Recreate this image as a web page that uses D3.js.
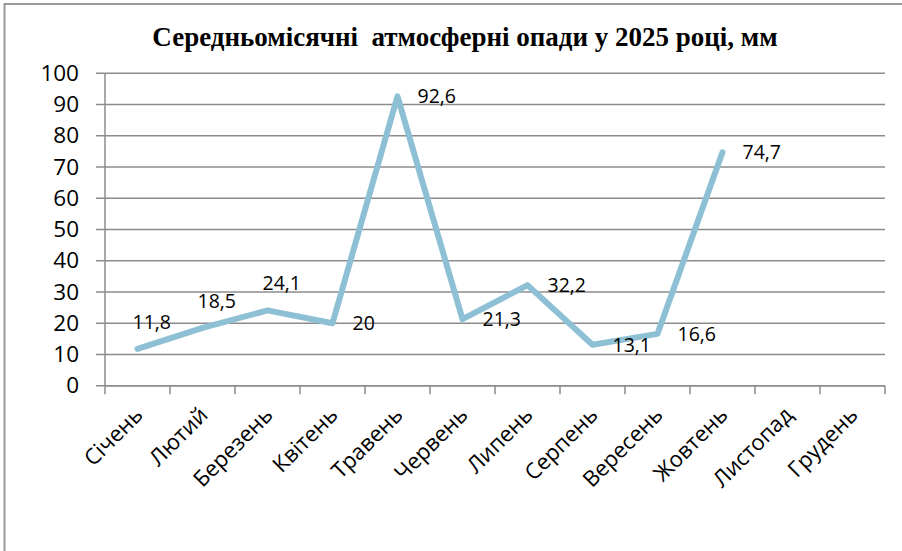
<!DOCTYPE html>
<html><head><meta charset="utf-8">
<script src="https://cdn.jsdelivr.net/npm/d3@7"></script>
<style>html,body{margin:0;padding:0;background:#fff}svg{display:block}</style>
</head><body>
<svg id="c" width="902" height="551"></svg>
<script>
const title = "Середньомісячні  атмосферні опади у 2025 році, мм";
const months = ["Січень","Лютий","Березень","Квітень","Травень","Червень","Липень","Серпень","Вересень","Жовтень","Листопад","Грудень"];
const values = [11.8, 18.5, 24.1, 20, 92.6, 21.3, 32.2, 13.1, 16.6, 74.7];
const labels = ["11,8","18,5","24,1","20","92,6","21,3","32,2","13,1","16,6","74,7"];
const labelPlacement = ["above","above","above","right","right","right","right","right","right","right"];
const yTicks = [0,10,20,30,40,50,60,70,80,90,100];

(function(){
const svg = d3.select("#c");
const pL = 105, pR = 885, pT = 73.3, pB = 385.7;

svg.append("path").attr("d","M4.5,551 L4.5,4 L902,4").attr("fill","none").attr("stroke","#9a9a9a").attr("stroke-width",2);

svg.append("text").attr("x",465).attr("y",46).attr("text-anchor","middle")
  .attr("font-family","'Liberation Serif','Times New Roman',serif").attr("font-weight","bold")
  .attr("font-size",27).attr("fill","#000").attr("xml:space","preserve").text(title);

const x = d3.scaleBand().domain(months).range([pL,pR]);
const y = d3.scaleLinear().domain([0,100]).range([pB,pT]);

svg.append("g").selectAll("line").data(yTicks).join("line")
  .attr("x1",96).attr("x2",pR).attr("y1",d=>y(d)).attr("y2",d=>y(d))
  .attr("stroke","#8c8c8c").attr("stroke-width",1.5);

const ya = svg.append("g").attr("transform",`translate(${pL},0)`)
  .call(d3.axisLeft(y).tickValues(yTicks).tickSize(0).tickPadding(26).tickFormat(d3.format("d")));
ya.select(".domain").attr("stroke","#8c8c8c").attr("stroke-width",1.5).attr("d",`M0,${pT}V${pB}`);
ya.selectAll("text").attr("font-family","'Open Sans',sans-serif").attr("font-size",22.5).attr("fill","#000");

const xa = svg.append("g").attr("transform",`translate(0,${pB})`)
  .call(d3.axisBottom(x).tickSize(0).tickFormat(""));
xa.select(".domain").attr("stroke","#8c8c8c").attr("stroke-width",1.5).attr("d",`M${pL},0H${pR}`);
xa.selectAll(".tick").remove();
const bounds = months.map(m=>x(m)).concat([x(months[months.length-1])+x.bandwidth()]);
svg.append("g").selectAll("line").data(bounds).join("line")
  .attr("x1",d=>d).attr("x2",d=>d).attr("y1",pB).attr("y2",pB+8.5)
  .attr("stroke","#8c8c8c").attr("stroke-width",1.5);

svg.append("g").selectAll("text").data(months).join("text")
  .attr("transform",d=>`translate(${x(d)+x.bandwidth()/2-5},${pB+19}) rotate(-45)`)
  .attr("text-anchor","end").attr("dy","0.75em")
  .attr("font-family","'Open Sans',sans-serif").attr("font-size",22).attr("fill","#000").text(d=>d);

const pts = values.map((v,i)=>[x(months[i])+x.bandwidth()/2, y(v)]);
svg.append("path").attr("d",d3.line()(pts)).attr("fill","none")
  .attr("stroke","#8dc0d4").attr("stroke-width",6).attr("stroke-linejoin","round").attr("stroke-linecap","round");

svg.append("g").selectAll("text").data(values).join("text")
  .attr("x",(d,i)=> labelPlacement[i]==="right" ? pts[i][0]+20 : pts[i][0]-5)
  .attr("y",(d,i)=> labelPlacement[i]==="right" ? pts[i][1]+7 : pts[i][1]-20)
  .attr("text-anchor","start")
  .attr("font-family","'Open Sans',sans-serif").attr("font-size",19.5).attr("fill","#000")
  .text((d,i)=>labels[i]);
})();
</script>
</body></html>
